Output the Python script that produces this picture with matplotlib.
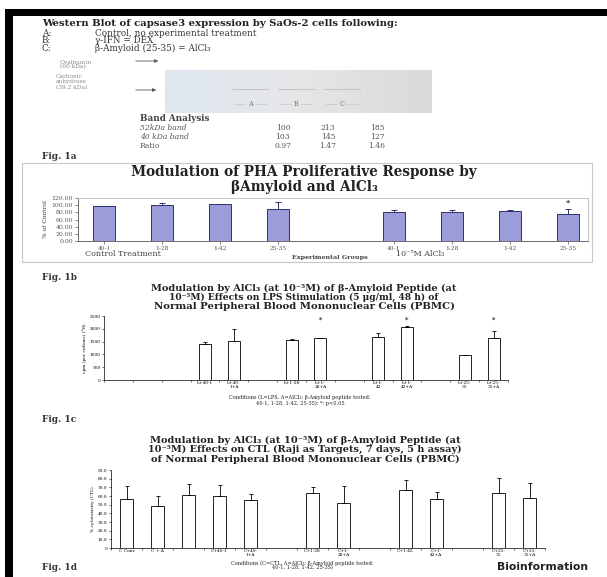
import matplotlib
matplotlib.use('Agg')
import matplotlib.pyplot as plt
from matplotlib.patches import Rectangle, FancyArrowPatch
import numpy as np

# ---------------- data ----------------
blot_lanes = ['A', 'B', 'C']
band_rows = ['52kDa band', '40 kDa band', 'Ratio']
band_52 = [100, 213, 185]
band_40 = [103, 145, 127]
band_ratio = [0.97, 1.47, 1.46]

pha_labels = ['40-1', '1-28', '1-42', '25-35', '40-1', '1-28', '1-42', '25-35']
pha_values = [98, 100, 102, 90, 81, 81, 83, 76]
pha_err = [1, 6, 2, 18, 5, 6, 4, 13]
pha_star = [False, False, False, False, False, False, False, True]

lps_labels = ['L+40-1', 'L+40-\n1+A', 'L+1-28', 'L+1-\n28+A', 'L+1-\n42', 'L+1-\n42+A', 'L+25-\n35', 'L+25-\n35+A']
lps_values = [1400, 1530, 1570, 1630, 1680, 2080, 980, 1650]
lps_err = [80, 470, 15, 15, 160, 15, 15, 250]
lps_star = [False, False, False, True, False, True, False, True]

ctl_labels = ['C Cont', 'C + A', '', 'C+40-1', 'C+40-\n1+A', 'C+1-28', 'C+1-\n28+A',
              'C+1-42', 'C+1-\n42+A', 'C+25-\n35', 'C+25-\n35+A']
ctl_values = [57, 49, 61, 60, 55, 64, 52, 67, 56, 63, 58]
ctl_err = [15, 11, 13, 13, 7, 6, 19, 12, 9, 18, 17]

# category slot positions (layout)
pha_pos = [0, 1, 2, 3, 5, 6, 7, 8]
lps_pos = [3, 4, 6, 7, 9, 10, 12, 13]
ctl_pos = [0, 1, 2, 3, 4, 6, 7, 9, 10, 12, 13]

# ---------------- figure ----------------
W, H = 607, 577
fig = plt.figure(figsize=(W / 100, H / 100), dpi=100)
fig.patch.set_facecolor('white')
R = fig.canvas.get_renderer()
SERIF = 'DejaVu Serif'


def fx(x):
    return x / W


def fy(y):
    return 1 - y / H


def txt(x, y, s, size=6, width=None, ha='left', va='center', family=SERIF, **kw):
    t = fig.text(fx(x), fy(y), s, fontsize=size, ha=ha, va=va, family=family, **kw)
    if width:
        w = t.get_window_extent(R).width
        t.set_fontsize(size * width / w)
    return t


def rect(x0, y0, x1, y1, **kw):
    fig.patches.append(Rectangle((fx(x0), fy(y1)), (x1 - x0) / W, (y1 - y0) / H,
                                 transform=fig.transFigure, **kw))


def line(x0, y0, x1, y1, **kw):
    fig.add_artist(plt.Line2D([fx(x0), fx(x1)], [fy(y0), fy(y1)], transform=fig.transFigure, **kw))


def arrow(x0, x1, y):
    fig.add_artist(FancyArrowPatch((fx(x0), fy(y)), (fx(x1), fy(y)), transform=fig.transFigure,
                                   arrowstyle='-|>', mutation_scale=5, lw=0.6, color='#555555'))


def add_ax(l, r, t, b):
    return fig.add_axes([fx(l), fy(b), (r - l) / W, (b - t) / H])


# black frame
rect(5, 9, 607, 16, fc='black', ec='none')
rect(5, 9, 13, 577, fc='black', ec='none')

# ---------------- western blot section ----------------
txt(42, 23, 'Western Blot of capsase3 expression by SaOs-2 cells following:', size=7.3,
    weight='bold', color='#222222')
for i, (lab, s) in enumerate([('A:', 'Control, no experimental treatment'),
                              ('B:', 'γ-IFN = DEX'),
                              ('C:', 'β-Amyloid (25-35) = AlCl₃')]):
    txt(42, 33 + 7.8 * i, lab, size=6.4, color='#333333')
    txt(95, 33 + 7.8 * i, s, size=6.4, color='#333333')

txt(60, 62, 'Ovalbumin', size=4.2, color='#888888')
txt(60, 67, '(60 kDa)', size=4.2, color='#888888')
arrow(133, 161, 61)
txt(56, 77, 'Carbonic', size=4.2, color='#888888')
txt(56, 82, 'anhydrase', size=4.2, color='#888888')
txt(56, 88, '(39.2 kDa)', size=4.2, color='#888888')
arrow(133, 159, 90)

# blot image
grad = np.linspace(0, 1, 200)[None, :]
blot_ax = add_ax(165, 432, 70, 113)
blot_ax.imshow(np.repeat(grad, 20, axis=0), cmap=matplotlib.colors.LinearSegmentedColormap.from_list(
    'b', ['#dfe7ef', '#e6e6e8', '#dadadc']), aspect='auto', extent=(0, 1, 0, 1))
blot_ax.set_xlim(0, 1)
blot_ax.set_ylim(0, 1)
blot_ax.axis('off')
lane_x = [250, 296, 342]
for lx, lab in zip(lane_x, blot_lanes):
    line(lx - 18, 89, lx + 18, 89, color='#c6c6ca', lw=0.8)
    line(lx - 16, 104, lx - 5, 104, color='#cacace', lw=0.6)
    line(lx + 5, 104, lx + 16, 104, color='#cacace', lw=0.6)
    txt(lx, 104, lab, size=4.8, ha='center', color='#777777')

txt(140, 118, 'Band Analysis', size=6.3, weight='bold', color='#444444')
val_x = [283, 328, 377]
rows = [band_52, band_40, band_ratio]
for i, (name, vals) in enumerate(zip(band_rows, rows)):
    y = 128 + 9 * i
    txt(140, y, name, size=5.5, color='#555555', style='italic' if i < 2 else 'normal')
    for vx, v in zip(val_x, vals):
        s = f'{v:.2f}' if isinstance(v, float) else f'{v}'
        txt(vx, y, s, size=5.5, ha='center', color='#555555')

txt(42, 157, 'Fig. 1a', size=6.5, weight='bold', color='#333333')

# ---------------- Fig 1a chart (PHA) ----------------
rect(22, 163, 592, 262, fc='none', ec='#c8c8c8', lw=0.8)
txt(304, 172, 'Modulation of PHA Proliferative Response by', size=9.8,
    ha='center', weight='bold', color='#222222')
txt(304, 187, 'βAmyloid and AlCl₃', size=9.8, ha='center', weight='bold', color='#222222')

ax1 = add_ax(78, 588, 198, 241)
ax1.bar(pha_pos, pha_values, width=0.38, color='#9c9cda', edgecolor='#303070', linewidth=0.7, zorder=2)
ax1.errorbar(pha_pos, pha_values, yerr=[np.zeros(len(pha_err)), pha_err], fmt='none',
             ecolor='#303070', elinewidth=0.7, capsize=2, capthick=0.7, zorder=3)
for p, v, e, st in zip(pha_pos, pha_values, pha_err, pha_star):
    if st:
        ax1.text(p, v + e + 3, '*', ha='center', va='bottom', fontsize=6, family=SERIF)
ax1.set_xlim(-0.45, 8.35)
ax1.set_ylim(0, 120)
ax1.set_yticks(range(0, 121, 20))
ax1.set_yticklabels([f'{v:.2f}' for v in range(0, 121, 20)], family=SERIF, fontsize=4.4, color='#333333')
ax1.set_xticks(pha_pos)
ax1.set_xticklabels(pha_labels, family=SERIF, fontsize=4.2, color='#333333')
ax1.tick_params(length=2, width=0.5, pad=1.5, colors='#555555')
for sp in ['top', 'right']:
    ax1.spines[sp].set_color('#bbbbbb')
    ax1.spines[sp].set_linewidth(0.6)
for sp in ['left', 'bottom']:
    ax1.spines[sp].set_color('#555555')
    ax1.spines[sp].set_linewidth(0.6)
ax1.set_ylabel('% of Control', family=SERIF, fontsize=4.3, labelpad=2.5, color='#333333')
txt(85, 254, 'Control Treatment', size=5.8, color='#444444')
txt(330, 257, 'Experimental Groups', size=4.6, ha='center', weight='bold', color='#444444')
txt(396, 254, '10⁻⁵M AlCl₃', size=5.8, color='#444444')

txt(42, 278, 'Fig. 1b', size=6.5, weight='bold', color='#333333')

# ---------------- Fig 1b chart (LPS) ----------------
txt(304, 288, 'Modulation by AlCl₃ (at 10⁻⁵M) of β-Amyloid Peptide (at', size=5.5, width=308,
    ha='center', weight='bold', color='#222222')
txt(304, 297, '10⁻⁵M) Effects on LPS Stimulation (5 μg/ml, 48 h) of', size=5.5, width=272,
    ha='center', weight='bold', color='#222222')
txt(304, 306, 'Normal Peripheral Blood Mononuclear Cells (PBMC)', size=5.5, width=303,
    ha='center', weight='bold', color='#222222')


def white_bars(ax, pos, vals, errs, stars, ymax, labels, width):
    ax.bar(pos, vals, width=width, color='white', edgecolor='black', linewidth=0.6, zorder=2)
    ax.errorbar(pos, vals, yerr=[np.zeros(len(errs)), errs], fmt='none', ecolor='black',
                elinewidth=0.6, capsize=1.5, capthick=0.6, zorder=3)
    if stars is not None:
        for p, v, e, st in zip(pos, vals, errs, stars):
            if st:
                ax.text(p, ymax * 0.93, '*', ha='center', va='center', fontsize=5, family=SERIF)
    ax.set_xlim(-0.5, 13.5)
    ax.set_ylim(0, ymax)
    ax.set_xticks(pos)
    ax.set_xticklabels(labels, family=SERIF, fontsize=3.2, linespacing=0.95)
    ax.set_xticks(np.arange(-0.5, 14, 1), minor=True)
    for sp in ['top', 'right']:
        ax.spines[sp].set_visible(False)
    for sp in ['left', 'bottom']:
        ax.spines[sp].set_linewidth(0.5)
    ax.tick_params(length=1.5, width=0.4, pad=1, labelsize=3.2)
    ax.tick_params(axis='x', which='major', length=0)
    ax.tick_params(axis='x', which='minor', length=1.5, width=0.4)


ax2 = add_ax(104, 508, 316, 380)
white_bars(ax2, lps_pos, lps_values, lps_err, lps_star, 2500, lps_labels, 0.42)
ax2.set_yticks(range(0, 2501, 500))
ax2.set_yticklabels([str(v) for v in range(0, 2501, 500)], family=SERIF, fontsize=3.2)
ax2.set_ylabel('cpm (per culture) (³H)', family=SERIF, fontsize=3.2, labelpad=2)
txt(300, 397, 'Conditions (L=LPS, A=AlCl₃; β-Amyloid peptide tested:', size=3.6, ha='center', color='#222222')
txt(300, 403, '40-1, 1-28, 1-42, 25-35); *: p<0.05', size=3.6, ha='center', color='#222222')

txt(42, 420, 'Fig. 1c', size=6.5, weight='bold', color='#333333')

# ---------------- Fig 1c chart (CTL) ----------------
txt(305, 440, 'Modulation by AlCl₃ (at 10⁻⁵M) of β-Amyloid Peptide (at', size=5.5, width=310,
    ha='center', weight='bold', color='#222222')
txt(305, 449, '10⁻⁵M) Effects on CTL (Raji as Targets, 7 days, 5 h assay)', size=5.5, width=314,
    ha='center', weight='bold', color='#222222')
txt(305, 459, 'of Normal Peripheral Blood Mononuclear Cells (PBMC)', size=5.5, width=310,
    ha='center', weight='bold', color='#222222')

ax3 = add_ax(111, 545, 470, 548)
white_bars(ax3, ctl_pos, ctl_values, ctl_err, None, 90, ctl_labels, 0.45)
ax3.set_yticks(range(0, 91, 10))
ax3.set_yticklabels(['0'] + [f'{v:.1f}' for v in range(10, 91, 10)], family=SERIF, fontsize=3.2)
ax3.set_ylabel('% cytotoxicity (CTL)', family=SERIF, fontsize=3.2, labelpad=2)
txt(302, 563, 'Conditions (C=CTL, A=AlCl₃; β-Amyloid peptide tested:', size=3.6, ha='center', color='#222222')
txt(302, 568, '40-1, 1-28, 1-42, 25-35)', size=3.6, ha='center', color='#222222')

txt(42, 568, 'Fig. 1d', size=6.5, weight='bold', color='#333333')
txt(588, 567, 'Bioinformation', size=6.5, ha='right', weight='bold', family='DejaVu Sans', color='#222222',
    width=92)

fig.savefig('out.png', dpi=100, facecolor='white')
